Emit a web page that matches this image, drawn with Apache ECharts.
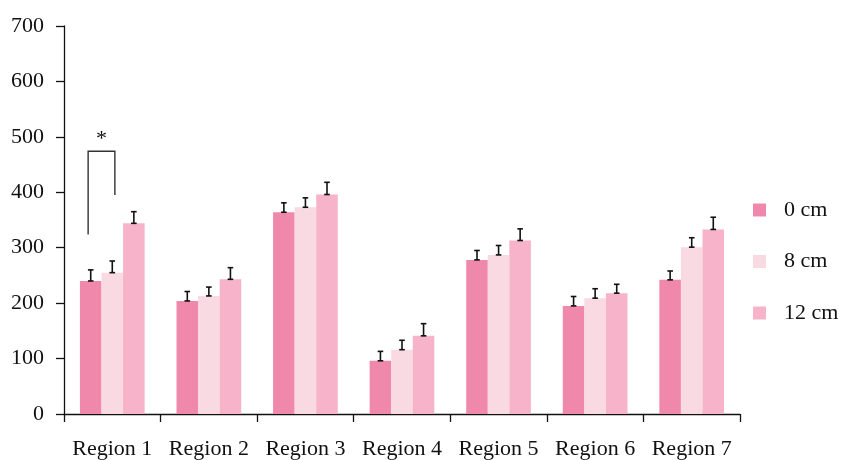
<!DOCTYPE html>
<html>
<head>
<meta charset="utf-8">
<script src="https://cdn.jsdelivr.net/npm/echarts@6/dist/echarts.min.js"></script>
<style>
html,body{margin:0;padding:0;background:#fff;}
#chart{width:843px;height:460px;}
</style>
</head>
<body>
<div id="chart"></div>
<script>
const categories = ['Region 1','Region 2','Region 3','Region 4','Region 5','Region 6','Region 7'];
const seriesNames = ['0 cm','8 cm','12 cm'];
const values0  = [240, 204, 364,  96, 278, 195, 242];
const values8  = [255, 213, 373, 116, 287, 209, 301];
const values12 = [344, 243, 396, 141, 313, 218, 333];
const err0  = [20, 17, 17, 17, 17, 17, 16];
const err8  = [21, 16, 17, 17, 17, 17, 17];
const err12 = [21, 21, 22, 22, 21, 16, 22];
const yTicks = [0, 100, 200, 300, 400, 500, 600, 700];
// significance bracket in Region 1 between 0 cm and 8 cm
const sigCategory = 0;
const sigGroups = [0, 1];
const sigLevels = [474, 324, 395];
const sigLabel = '*';

const colors = ['#F088AC', '#F9D9E2', '#F6B3CA'];
const FONT = '"Liberation Serif","Times New Roman",serif';
const CAT_GAP = 0.33;
const allValues = [values0, values8, values12];
const allErrs = [err0, err8, err12];

const chart = echarts.init(document.getElementById('chart'));

function barGeom(api, cat, g) {
  const band = api.size([1, 0])[0];
  const bw = band * (1 - CAT_GAP) / 3;
  const cx = api.coord([cat, 0])[0] + (g - 1) * bw;
  return {cx: cx, bw: bw};
}

const errData = [];
allValues.forEach((vals, g) => {
  vals.forEach((v, i) => errData.push([i, v, allErrs[g][i], g]));
});

const barSeries = seriesNames.map((name, g) => ({
  name: name,
  type: 'bar',
  data: allValues[g],
  barGap: '0%',
  barCategoryGap: (CAT_GAP * 100) + '%',
  itemStyle: {color: colors[g]},
  emphasis: {disabled: true}
}));

const option = {
  animation: false,
  textStyle: {fontFamily: FONT},
  grid: {left: 64, right: 103, top: 26, bottom: 45, containLabel: false},
  legend: {
    data: seriesNames,
    orient: 'vertical',
    left: 753,
    top: 199,
    padding: 0,
    itemWidth: 13,
    itemHeight: 13,
    itemGap: 29.5,
    icon: 'rect',
    textStyle: {fontFamily: FONT, fontSize: 22, color: '#111', padding: [0, 0, 0, 13]},
    selectedMode: false
  },
  xAxis: {
    type: 'category',
    data: categories,
    axisLine: {lineStyle: {color: '#111', width: 1.3}},
    axisTick: {show: true, length: 8, alignWithLabel: false, interval: 0, lineStyle: {color: '#111', width: 1.3}},
    axisLabel: {fontFamily: FONT, fontSize: 22, color: '#111', margin: 24, interval: 0},
    splitLine: {show: false}
  },
  yAxis: {
    type: 'value',
    min: yTicks[0],
    max: yTicks[yTicks.length - 1],
    interval: yTicks[1] - yTicks[0],
    axisLine: {show: true, lineStyle: {color: '#111', width: 1.3}},
    axisTick: {show: true, length: 8, lineStyle: {color: '#111', width: 1.3}},
    axisLabel: {fontFamily: FONT, fontSize: 22, color: '#111', margin: 20},
    splitLine: {show: false}
  },
  series: barSeries.concat([
    {
      type: 'custom',
      name: 'err',
      z: 10,
      data: errData,
      renderItem: function (params, api) {
        const cat = api.value(0), v = api.value(1), e = api.value(2), g = api.value(3);
        const geo = barGeom(api, cat, g);
        const yb = api.coord([cat, v])[1];
        const yt = api.coord([cat, v + e])[1];
        const hw = 2.8;
        const st = {stroke: '#111', lineWidth: 1.6};
        return {
          type: 'group',
          children: [
            {type: 'line', shape: {x1: geo.cx, y1: yb, x2: geo.cx, y2: yt}, style: st},
            {type: 'line', shape: {x1: geo.cx - hw, y1: yt, x2: geo.cx + hw, y2: yt}, style: st},
            {type: 'line', shape: {x1: geo.cx - hw, y1: yb, x2: geo.cx + hw, y2: yb}, style: st}
          ]
        };
      }
    },
    {
      type: 'custom',
      name: 'sig',
      z: 10,
      data: [[sigCategory, sigLevels[0], sigLevels[1], sigLevels[2]]],
      renderItem: function (params, api) {
        const cat = api.value(0);
        const a = barGeom(api, cat, sigGroups[0]);
        const b = barGeom(api, cat, sigGroups[1]);
        const x1 = a.cx - a.bw * 0.12, x2 = b.cx + b.bw * 0.12;
        const yTop = api.coord([cat, api.value(1)])[1];
        const yA = api.coord([cat, api.value(2)])[1];
        const yB = api.coord([cat, api.value(3)])[1];
        const st = {stroke: '#333', lineWidth: 1.4, fill: null};
        return {
          type: 'group',
          children: [
            {type: 'polyline', shape: {points: [[x1, yA], [x1, yTop], [x2, yTop], [x2, yB]]}, style: st},
            {type: 'text', style: {text: sigLabel, x: (x1 + x2) / 2, y: yTop - 1, align: 'center', verticalAlign: 'bottom', font: '22px ' + FONT, fill: '#111'}}
          ]
        };
      }
    }
  ])
};
chart.setOption(option);
</script>
</body>
</html>
